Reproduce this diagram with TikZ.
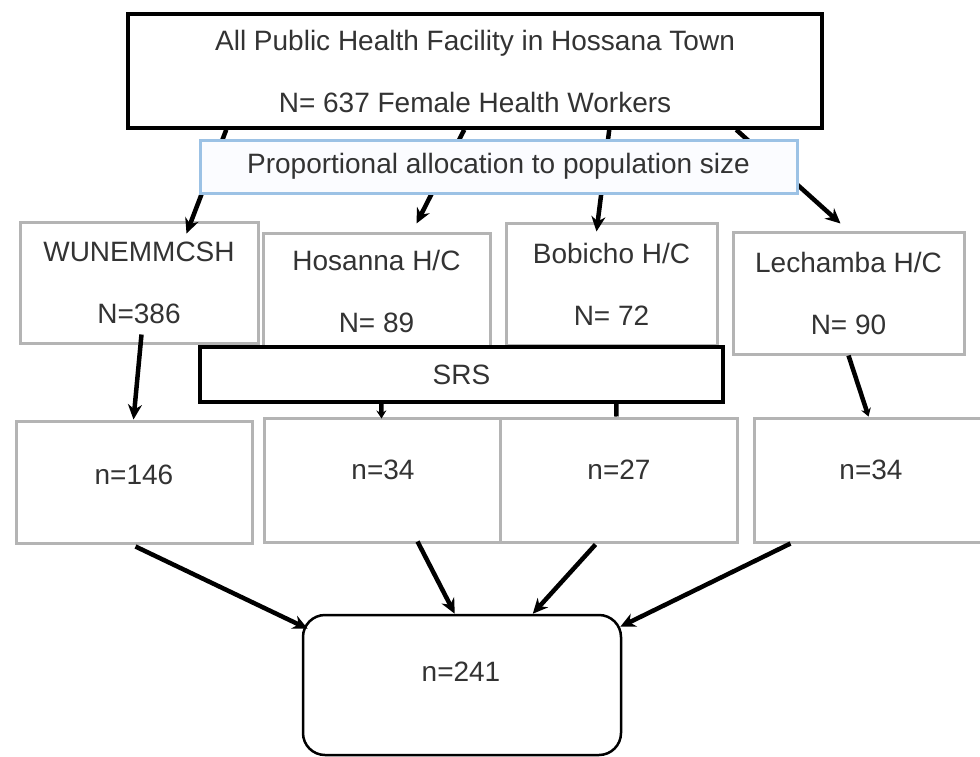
\documentclass[tikz,border=0pt]{standalone}
\usepackage{fontspec}
\setmainfont{Liberation Sans}
\usetikzlibrary{arrows.meta,calc}
\definecolor{txtc}{HTML}{333333}
\definecolor{boxgray}{HTML}{B4B4B4}
\definecolor{propblue}{HTML}{9CC2E5}
\definecolor{propfill}{HTML}{FBFCFF}
\begin{document}
\begin{tikzpicture}[x=1pt,y=-1pt,
  txt/.style={text=txtc, font=\fontsize{28}{62}\selectfont},
  graybox/.style={draw=boxgray, line width=3pt, fill=white, inner sep=0pt, txt, align=center},
  blackbox/.style={draw=black, line width=3.5pt, fill=white, inner sep=0pt, txt, align=center},
  arr/.style={line width=4.5pt, -{Stealth[length=15pt,width=14pt]}},
  smallarr/.style={line width=4.5pt, -{Stealth[length=8pt,width=10pt]}},
  stub/.style={line width=4.5pt}]
\useasboundingbox (0,0) rectangle (980,756);
\clip (0,0) rectangle (980,756);
\fill[white] (0,0) rectangle (980,756);

% top box
\node[blackbox, minimum width=694, minimum height=114] (top) at (475,71)
  {All Public Health Facility in Hossana Town\\N= 637 Female Health Workers};

% middle boxes
\node[graybox, minimum width=238, minimum height=121] (W) at (139,282.5) {WUNEMMCSH\\N=386};
\node[graybox, minimum width=227, minimum height=117] (hos) at (376.5,291.5) {Hosanna H/C\\N= 89};
\node[graybox, minimum width=211, minimum height=122] (bob) at (611.5,284) {Bobicho H/C\\N= 72};
\node[graybox, minimum width=231, minimum height=122] (lec) at (848.5,293) {Lechamba H/C\\N= 90};

% arrows from the top box (behind the allocation box)
\draw[arr] ($(top.south west)+(100,0)$) -- ($(W.north west)+(168,13)$);
\draw[arr] ($(top.south west)+(338,0)$) -- ($(hos.north west)+(155,-8)$);
\draw[arr] ($(top.south west)+(483,0)$) -- ($(bob.north west)+(92,10)$);
\draw[arr] ($(top.south west)+(610,0)$) -- ($(lec.north west)+(109,-7)$);

% allocation box
\node[draw=propblue, line width=3pt, fill=propfill, inner sep=0pt, txt,
  minimum width=597, minimum height=53] (prop) at (498.5,166.5)
  {Proportional allocation to population size};

% SRS box
\node[blackbox, minimum width=523, minimum height=55] (srs) at (461.5,374.5) {SRS};

% bottom boxes
\node[graybox, minimum width=236, minimum height=122] (n146) at (134,482) {};
\node[graybox, minimum width=236, minimum height=124] (n34a) at (382,480) {};
\node[graybox, minimum width=237, minimum height=124] (n27) at (618.5,480) {};
\node[graybox, minimum width=236, minimum height=124] (n34b) at (872,480) {};
\node[txt] (t146) at (134,475) {n=146};
\node[txt] (t34a) at (383,470) {n=34};
\node[txt] (t27) at (619,470) {n=27};
\node[txt] (t34b) at (871,470) {n=34};

% middle to bottom
\draw[arr] ($(W.south west)+(123,-10)$) -- ($(n146.north west)+(119,0)$);
\draw[smallarr] ($(srs.south west)+(183,0)$) -- ($(n34a.north west)+(119,2)$);
\draw[stub] ($(srs.south west)+(418,0)$) -- ($(n27.north west)+(118,0)$);
\draw[smallarr] ($(lec.south west)+(117,0)$) -- ($(n34b.north west)+(116,0)$);

% total box
\node[draw=black, line width=2.5pt, fill=white, rounded corners=22pt, inner sep=0pt,
  minimum width=318, minimum height=140] (tot) at (462,685) {};
\node[txt] (t241) at (461,672) {n=241};

% bottom to total
\draw[arr] ($(n146.south west)+(121,2)$) -- ($(tot.north west)+(6,15)$);
\draw[arr] ($(n34a.south west)+(155,-2)$) -- ($(tot.north west)+(153,0)$);
\draw[arr] ($(n27.south west)+(97,1)$) -- ($(tot.north west)+(231,0)$);
\draw[arr] ($(n34b.south west)+(38,0)$) -- ($(tot.north east)+(-2,13)$);
\end{tikzpicture}
\end{document}
